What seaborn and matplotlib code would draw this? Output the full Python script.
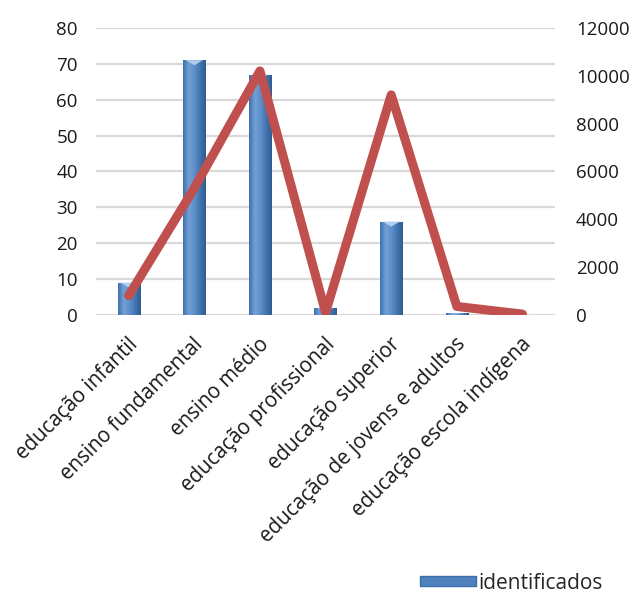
import numpy as np
import pandas as pd
import matplotlib
matplotlib.use("Agg")
import matplotlib.pyplot as plt
import matplotlib.transforms as mtransforms
import seaborn as sns
from matplotlib.patches import Patch
from matplotlib.colors import LinearSegmentedColormap

categorias = [
    "educação infantil",
    "ensino fundamental",
    "ensino médio",
    "educação profissional",
    "educação superior",
    "educação de jovens e adultos",
    "educação escola indígena",
]
identificados = [9, 71, 67, 2, 26, 0.4, 0]
total = [800, 5300, 10200, 100, 9200, 350, 30]

left_ticks = [0, 10, 20, 30, 40, 50, 60, 70, 80]
right_ticks = [0, 2000, 4000, 6000, 8000, 10000, 12000]

sns.set_theme(style="white")
plt.rcParams["font.family"] = ["Open Sans", "DejaVu Sans"]

fig = plt.figure(figsize=(6.39, 5.94), dpi=100)
ax = fig.add_axes([0.150, 0.470, 0.719, 0.483])

df = pd.DataFrame({"categoria": categorias, "identificados": identificados})
sns.barplot(data=df, x="categoria", y="identificados", ax=ax,
            color="#4F81BD", width=0.34, saturation=1, zorder=2)

# cylinder-like shading on each bar
cmap = LinearSegmentedColormap.from_list(
    "cyl", ["#3D72AC", "#739FD5", "#5E8FCA", "#4275B0", "#305C8F"])
grad = np.linspace(0, 1, 64).reshape(1, -1)
for p in ax.patches:
    x0, y0 = p.get_x(), p.get_y()
    w, h = p.get_width(), p.get_height()
    if h <= 0:
        continue
    im = ax.imshow(grad, extent=[x0, x0 + w, y0, y0 + h], aspect="auto",
                   cmap=cmap, zorder=2.1)
    im.set_clip_path(p)
    # light top cap
    cap = min(1.4, h * 0.5)
    ax.fill([x0 + w * 0.12, x0 + w * 0.88, x0 + w * 0.5],
            [y0 + h, y0 + h, y0 + h - cap], color="#B0CEEF", zorder=2.2,
            lw=0)

ax.set_ylim(0, 80)
ax.set_xlim(-0.5, len(categorias) - 0.5)
ax.set_yticks(left_ticks)
ax.yaxis.grid(True, color="#D9D9D9", linewidth=1.6, zorder=0)
ax.set_axisbelow(True)
for s in ax.spines.values():
    s.set_visible(False)
ax.set_xlabel("")
ax.set_ylabel("")
ax.tick_params(axis="y", labelsize=13.5, colors="#1a1a1a", length=0, pad=13)
ax.tick_params(axis="x", length=0, pad=19)
ax.set_xticks(range(len(categorias)))
ax.set_xticklabels(categorias, rotation=45, ha="right", va="center",
                   rotation_mode="anchor", fontsize=14.8, color="#1a1a1a")
# nudge the slanted category labels a little to the right
shift = mtransforms.ScaledTranslation(6 / 100, 0, fig.dpi_scale_trans)
for lbl in ax.get_xticklabels():
    lbl.set_transform(lbl.get_transform() + shift)

ax2 = ax.twinx()
sns.lineplot(x=np.arange(len(categorias)), y=total, ax=ax2,
             color="#C0504D", linewidth=6.5, zorder=3)
ax2.set_ylim(0, 12000)
ax2.set_yticks(right_ticks)
ax2.tick_params(axis="y", labelsize=13.5, colors="#1a1a1a", length=0, pad=15)
for s in ax2.spines.values():
    s.set_visible(False)
ax2.set_ylabel("")
ax2.grid(False)

handle = Patch(facecolor="#4F81BD", edgecolor="#3A6FA8")
fig.legend([handle], ["identificados"], loc="center",
           bbox_to_anchor=(0.80, 0.0185), frameon=False, fontsize=15,
           handlelength=2.7, handleheight=0.35, handletextpad=0.1)

fig.savefig("out.png", dpi=100)
